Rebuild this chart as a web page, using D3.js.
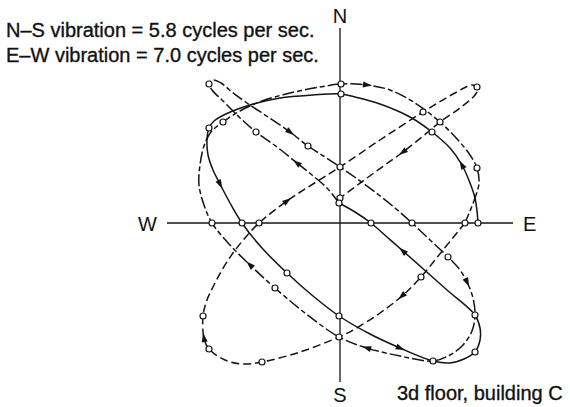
<!DOCTYPE html>
<html>
<head>
<meta charset="utf-8">
<script src="https://cdn.jsdelivr.net/npm/d3@7"></script>
<style>
  html, body { margin: 0; padding: 0; background: #fff; }
  svg text { font-family: "Liberation Sans", Arial, sans-serif; fill: #111; }
</style>
</head>
<body>
<svg id="chart" width="570" height="407"></svg>
<script>
// Horizontal path of a point on the 3d floor of building C.
// Each point is [E-W displacement (east +), N-S displacement (north +)].

// first loop, drawn solid
const solidTrace = [
  [138, 0], [137, 12], [135, 25], [130, 40], [122, 58], [110, 75], [92, 91], [70, 106],
  [40, 119], [15, 126], [1, 129], [-27, 128], [-60, 125], [-90, 118], [-112, 110],
  [-126, 102], [-131, 95], [-133, 83], [-132, 68], [-127, 53], [-120, 39], [-110, 20],
  [-98, 0], [-78, -25], [-53, -50], [-27, -73], [-1, -93], [30, -111], [60, -125],
  [93, -138], [110, -140], [124, -136], [135, -129], [140, -117], [140, -105], [135, -92],
  [107, -67], [63, -28], [47, -14], [31, 0], [15, 11], [-1, 20]
];

// second loop, drawn dash-dot
const dashDotTrace = [
  [-1, 20], [-13, 35], [-28, 48], [-43, 60], [-63, 76], [-84, 91], [-103, 108], [-118, 123],
  [-128, 133], [-131, 139], [-127, 143], [-119, 140], [-108, 131], [-93, 120], [-72, 106],
  [-50, 91], [-32, 77], [-15, 66], [0, 56], [16, 45], [35, 31], [55, 15], [72, 0],
  [90, -17], [108, -34], [120, -47], [127, -59], [133, -75], [135, -92], [132, -108],
  [123, -122], [110, -132], [93, -138], [60, -133], [27, -125], [-1, -114], [-35, -90],
  [-65, -65], [-90, -42], [-110, -22], [-128, 0], [-136, 18], [-141, 38], [-140, 58],
  [-136, 77], [-129, 91], [-117, 101], [-100, 112], [-78, 122], [-50, 130], [-20, 136],
  [1, 139], [27, 138], [50, 133], [75, 120], [100, 101], [118, 83], [130, 68], [137, 55],
  [139, 40], [135, 25], [125, 0]
];

// third loop, drawn dashed
const dashedTrace = [
  [125, 0], [103, -27], [81, -54], [62, -73], [40, -90], [15, -106], [-1, -114],
  [-40, -129], [-78, -139], [-97, -141], [-115, -137], [-131, -126], [-136, -115],
  [-137, -93], [-133, -77], [-127, -64], [-118, -47], [-107, -30], [-95, -15], [-81, 0],
  [-53, 22], [-27, 39], [0, 56], [40, 83], [83, 111], [115, 130], [132, 138], [138, 135],
  [135, 128], [120, 115], [100, 101], [82, 86], [63, 71], [45, 58], [27, 45], [0, 25]
];

// timing marks along the path
const timeMarks = [
  [1, 139], [1, 129], [-131, 139], [-131, 95], [-117, 101], [-84, 91], [-32, 77], [0, 56],
  [0, 25], [-1, 20], [-128, 0], [-98, 0], [-81, 0], [-53, -50], [-65, -65], [-137, -93],
  [-131, -126], [-78, -139], [-1, -93], [-1, -114], [93, -138], [135, -129], [135, -92],
  [81, -54], [108, -34], [31, 0], [72, 0], [125, 0], [138, 0], [137, 55], [92, 91],
  [100, 101], [83, 111], [137, 136]
];

// arrowheads showing the sense of travel, [trace, point on trace]
const arrowMarks = [
  ["solid", [122, 58]], ["solid", [-120, 39]], ["solid", [60, -125]], ["solid", [63, -28]],
  ["dashDot", [-43, 60]], ["dashDot", [-50, 91]], ["dashDot", [127, -59]],
  ["dashDot", [27, -125]], ["dashDot", [-90, -42]], ["dashDot", [27, 138]],
  ["dashed", [62, -73]], ["dashed", [-136, -115]], ["dashed", [-53, 22]], ["dashed", [63, 71]]
];

const compassLabels = ["N", "S", "E", "W"];
const notes = ["N\u2013S vibration = 5.8 cycles per sec.", "E\u2013W vibration = 7.0 cycles per sec."];
const caption = "3d floor, building C";

const ewExtent = [-173, 173];
const nsExtent = [-159, 195];

const svg = d3.select("#chart");
const ink = "#141414";

const x = d3.scaleLinear().domain([-170, 170]).range([170, 510]);
const y = d3.scaleLinear().domain([-170, 170]).range([393, 53]);

// compass axes
svg.append("line")
  .attr("x1", x(0)).attr("x2", x(0))
  .attr("y1", y(nsExtent[1])).attr("y2", y(nsExtent[0]))
  .attr("stroke", ink).attr("stroke-width", 1.3);
svg.append("line")
  .attr("x1", x(ewExtent[0])).attr("x2", x(ewExtent[1]))
  .attr("y1", y(0)).attr("y2", y(0))
  .attr("stroke", ink).attr("stroke-width", 1.3);

const labelPos = {
  N: { x: x(0), y: y(nsExtent[1]) - 5, anchor: "middle" },
  S: { x: x(0), y: y(nsExtent[0]) + 20, anchor: "middle" },
  E: { x: x(ewExtent[1]) + 10, y: y(0) + 8, anchor: "start" },
  W: { x: x(ewExtent[0]) - 10, y: y(0) + 8, anchor: "end" }
};
svg.selectAll("text.compass").data(compassLabels).join("text")
  .attr("class", "compass")
  .attr("x", d => labelPos[d].x).attr("y", d => labelPos[d].y)
  .attr("text-anchor", d => labelPos[d].anchor)
  .attr("font-size", 20)
  .text(d => d);

// traces
const traces = {
  solid: { pts: solidTrace, dash: null },
  dashDot: { pts: dashDotTrace, dash: "12,3,5,3" },
  dashed: { pts: dashedTrace, dash: "8,4" }
};
const lineGen = d3.line()
  .x(d => x(d[0])).y(d => y(d[1]))
  .curve(d3.curveCatmullRom.alpha(0.5));

Object.entries(traces).forEach(([name, t]) => {
  svg.append("path")
    .attr("class", "trace-" + name)
    .attr("d", lineGen(t.pts))
    .attr("fill", "none")
    .attr("stroke", ink)
    .attr("stroke-width", 1.5)
    .attr("stroke-linejoin", "round")
    .attr("stroke-dasharray", t.dash);
});

// arrowheads, oriented along the trace at the given point
arrowMarks.forEach(([name, p]) => {
  const pts = traces[name].pts;
  let best = 0, bd = Infinity;
  pts.forEach((q, i) => {
    const d = (q[0] - p[0]) ** 2 + (q[1] - p[1]) ** 2;
    if (d < bd) { bd = d; best = i; }
  });
  const a = pts[Math.max(0, best - 1)], b = pts[Math.min(pts.length - 1, best + 1)];
  const ang = Math.atan2(y(b[1]) - y(a[1]), x(b[0]) - x(a[0])) * 180 / Math.PI;
  svg.append("path")
    .attr("d", "M5,0 L-4,-3 L-4,3 Z")
    .attr("transform", `translate(${x(pts[best][0])},${y(pts[best][1])}) rotate(${ang})`)
    .attr("fill", ink);
});

// timing marks
svg.selectAll("circle.mark").data(timeMarks).join("circle")
  .attr("class", "mark")
  .attr("cx", d => x(d[0])).attr("cy", d => y(d[1]))
  .attr("r", 3)
  .attr("fill", "#fff")
  .attr("stroke", ink)
  .attr("stroke-width", 1.2);

// notes
svg.selectAll("text.note").data(notes).join("text")
  .attr("class", "note")
  .attr("x", 6).attr("y", (d, i) => 37 + i * 25)
  .attr("font-size", 20)
  .attr("stroke", ink).attr("stroke-width", 0.35)
  .text(d => d);

svg.append("text")
  .attr("x", 397).attr("y", 400)
  .attr("font-size", 20)
  .attr("stroke", ink).attr("stroke-width", 0.35)
  .text(caption);
</script>
</body>
</html>
